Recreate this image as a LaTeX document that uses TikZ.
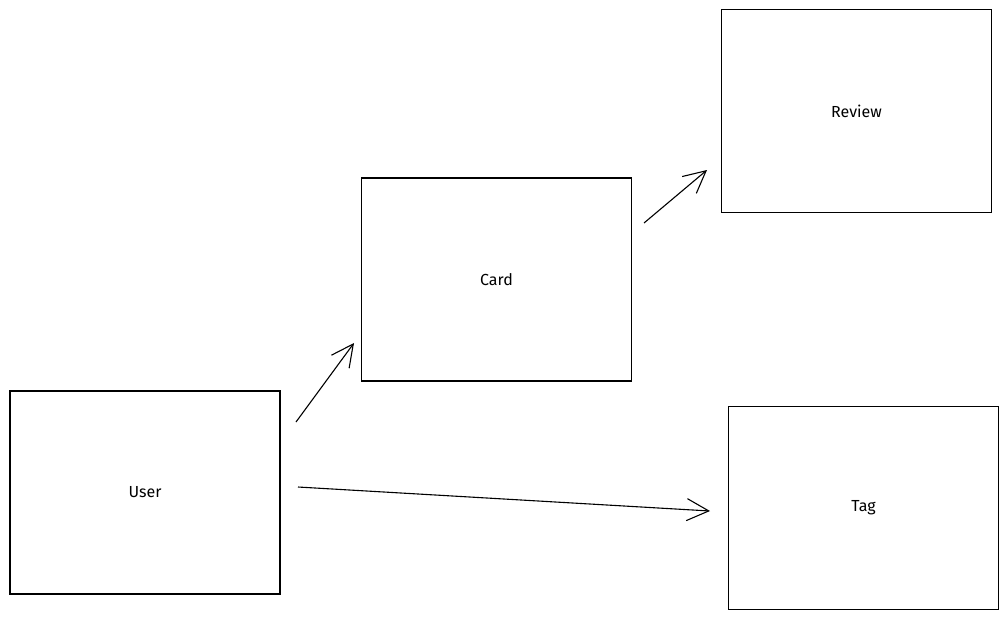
\documentclass[tikz,border=0pt]{standalone}
\usepackage{fontspec}
\setmainfont{Fira Sans}
\usetikzlibrary{arrows.meta}
\begin{document}
\begin{tikzpicture}[x=1pt, y=-1pt,
    box/.style={draw, line width=1.1pt, minimum width=270pt, minimum height=203pt, inner sep=0pt, font=\fontsize{16}{19}\selectfont},
    arr/.style={line width=1.1pt, -{Straight Barb[length=22pt, width=22pt, line width=1.1pt]}}]

    \useasboundingbox (0, 0) rectangle (1008, 619);

    \node[box] (user) at (145, 492.5) {User};
    \node[box] (card) at (496.5, 279.5) {Card};
    \node[box] (review) at (856.5, 111) {Review};
    \node[box] (tag) at (863.5, 508) {Tag};

    \coordinate (user-card) at (296, 422);
    \coordinate (card-in) at (354, 343);
    \coordinate (card-review) at (644, 223);
    \coordinate (review-in) at (707, 170);
    \coordinate (user-tag) at (298, 487);
    \coordinate (tag-in) at (710, 511);

    \draw[arr] (user-card) -- (card-in);
    \draw[arr] (card-review) -- (review-in);
    \draw[arr] (user-tag) -- (tag-in);
\end{tikzpicture}
\end{document}
